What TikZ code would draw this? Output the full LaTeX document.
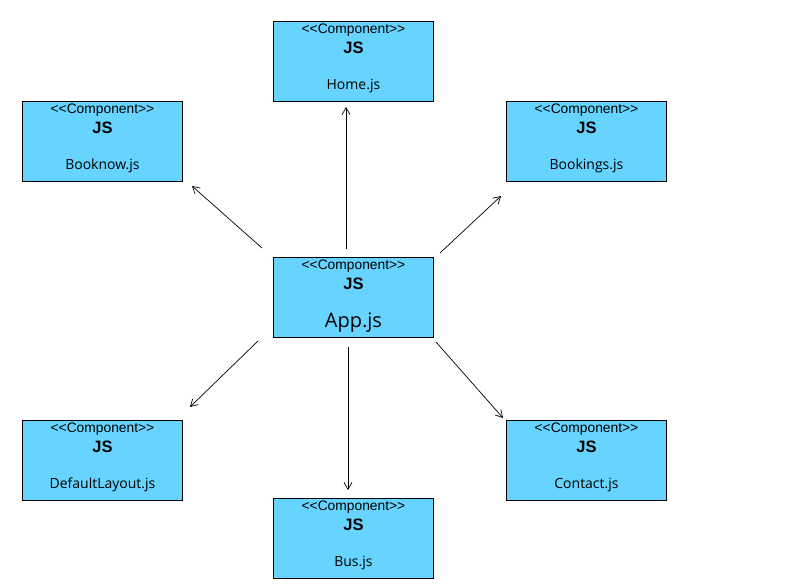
\documentclass[tikz,border=0pt]{standalone}
\usepackage{fontspec}
\setmainfont{Liberation Sans}
\newfontfamily\namefont{Open Sans}
\usetikzlibrary{arrows.meta}
\definecolor{boxfill}{HTML}{66D4FF}
\tikzset{
  comp/.style={draw=black, fill=boxfill, line width=0.9pt, minimum width=160pt, minimum height=80pt, inner sep=0pt, anchor=north west},
  stereo/.style={font=\fontsize{13.8}{15}\selectfont, inner sep=0pt},
  jslabel/.style={font=\fontsize{16.5}{18}\selectfont\bfseries, inner sep=0pt},
  fname/.style={font=\namefont\fontsize{14}{16}\selectfont, inner sep=0pt},
  bigname/.style={font=\namefont\fontsize{20}{22}\selectfont, inner sep=0pt},
  conn/.style={draw=black, line width=0.7pt, -{Straight Barb[angle=60:8pt, line width=0.7pt]}}
}
\begin{document}
\begin{tikzpicture}[x=1pt, y=-1pt]
\useasboundingbox (0,0) rectangle (812,586);
\fill[white] (0,0) rectangle (812,586);
% boxes
\node[comp] (home) at (273,21) {};
\node[comp] (booknow) at (22,101) {};
\node[comp] (bookings) at (506,101) {};
\node[comp] (app) at (273,257) {};
\node[comp] (default) at (22,420) {};
\node[comp] (contact) at (506,420) {};
\node[comp] (bus) at (273,498) {};
% labels
\foreach \n/\t in {home/Home.js, booknow/Booknow.js, bookings/Bookings.js, default/DefaultLayout.js, contact/Contact.js, bus/Bus.js}{
  \node[stereo] (\n-st) at ([yshift=-9pt]\n.north) {<{}<Component>{}>};
  \node[jslabel] (\n-js) at ([yshift=-27pt]\n.north) {JS};
  \node[fname] (\n-nm) at ([yshift=-65pt]\n.north) {\t};
}
\node[stereo] (app-st) at ([yshift=-9pt]app.north) {<{}<Component>{}>};
\node[jslabel] (app-js) at ([yshift=-27pt]app.north) {JS};
\node[bigname] (app-nm) at ([yshift=-66pt]app.north) {App.js};
% connector ends
\coordinate (s1) at (346,249); \coordinate (e1) at (346,107);
\coordinate (s2) at (262,248); \coordinate (e2) at (192,186);
\coordinate (s3) at (440,253); \coordinate (e3) at (501,196);
\coordinate (s4) at (258,341); \coordinate (e4) at (190,407);
\coordinate (s5) at (348,347); \coordinate (e5) at (348,490);
\coordinate (s6) at (436,342); \coordinate (e6) at (503,418);
\draw[conn] (s1) -- (e1);
\draw[conn] (s2) -- (e2);
\draw[conn] (s3) -- (e3);
\draw[conn] (s4) -- (e4);
\draw[conn] (s5) -- (e5);
\draw[conn] (s6) -- (e6);
\end{tikzpicture}
\end{document}
